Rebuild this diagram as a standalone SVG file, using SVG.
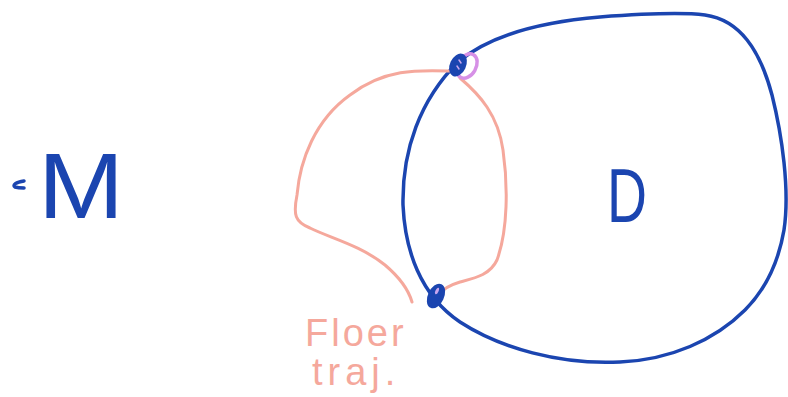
<svg xmlns="http://www.w3.org/2000/svg" width="788" height="397" viewBox="0 0 788 397">
<style>
.blue{fill:none;stroke:#1b45b0;stroke-width:3.5;stroke-linecap:round;stroke-linejoin:round}
.pink{fill:none;stroke:#f5a89c;stroke-width:3;stroke-linecap:round;stroke-linejoin:round}
.lbl{font-family:"Liberation Sans",sans-serif}
</style>
<rect width="788" height="397" fill="#ffffff"/>
<g id="connectors">
<path class="blue" d="M458,62 C490,35 540,22 600,17 C640,14 680,12 705,15 C740,20 760,50 772,95 C782,135 790,190 784,230 C778,265 765,290 745,310 C715,340 670,360 620,362 C560,365 500,348 460,322 C420,295 405,250 403,205 C402,150 420,100 458,62 Z"/>
<path class="pink" d="M450,71 C420,70 385,68 350,95 C315,120 300,160 297,195 C293,215 295,222 310,228 C330,238 360,245 385,265 C405,282 410,295 412,302"/>
<path class="pink" d="M460,78 C480,95 498,115 503,150 C508,185 508,230 497,260 C490,275 475,278 460,282 C450,285 442,290 438,295"/>
</g>
<g id="node-top">
<ellipse cx="467" cy="66" rx="9" ry="13" fill="none" stroke="#d690e6" stroke-width="3.5" transform="rotate(30 467 66)"/>
<ellipse cx="458" cy="65" rx="6" ry="10" fill="#1b45b0" stroke="#1b45b0" stroke-width="4" transform="rotate(25 458 65)"/>
<path d="M459,60 L461,63 M457,66 L459,69" stroke="#c9a6ee" stroke-width="1.5" stroke-linecap="round"/>
</g>
<g id="node-bottom">
<ellipse cx="436" cy="296" rx="6" ry="11" fill="#1b45b0" stroke="#1b45b0" stroke-width="4" transform="rotate(25 436 296)"/>
<ellipse cx="437" cy="291" rx="1.5" ry="3.5" fill="#c9a6ee" transform="rotate(25 437 291)"/>
</g>
<g id="label-M">
<path class="blue" d="M24,181 C16,182 12,185 15,187 C18,188 22,188 24,188"/>
<text class="lbl" x="38" y="218" font-size="92" fill="#1b45b0" textLength="86" lengthAdjust="spacingAndGlyphs">M</text>
</g>
<g id="label-D">
<text class="lbl" x="607" y="222" font-size="76" fill="#1b45b0" textLength="40" lengthAdjust="spacingAndGlyphs">D</text>
</g>
<g id="label-floer">
<text class="lbl" x="305" y="346" font-size="38" fill="#f5a89c" letter-spacing="3">Floer</text>
<text class="lbl" x="312" y="385" font-size="38" fill="#f5a89c" letter-spacing="5">traj.</text>
</g>
</svg>
